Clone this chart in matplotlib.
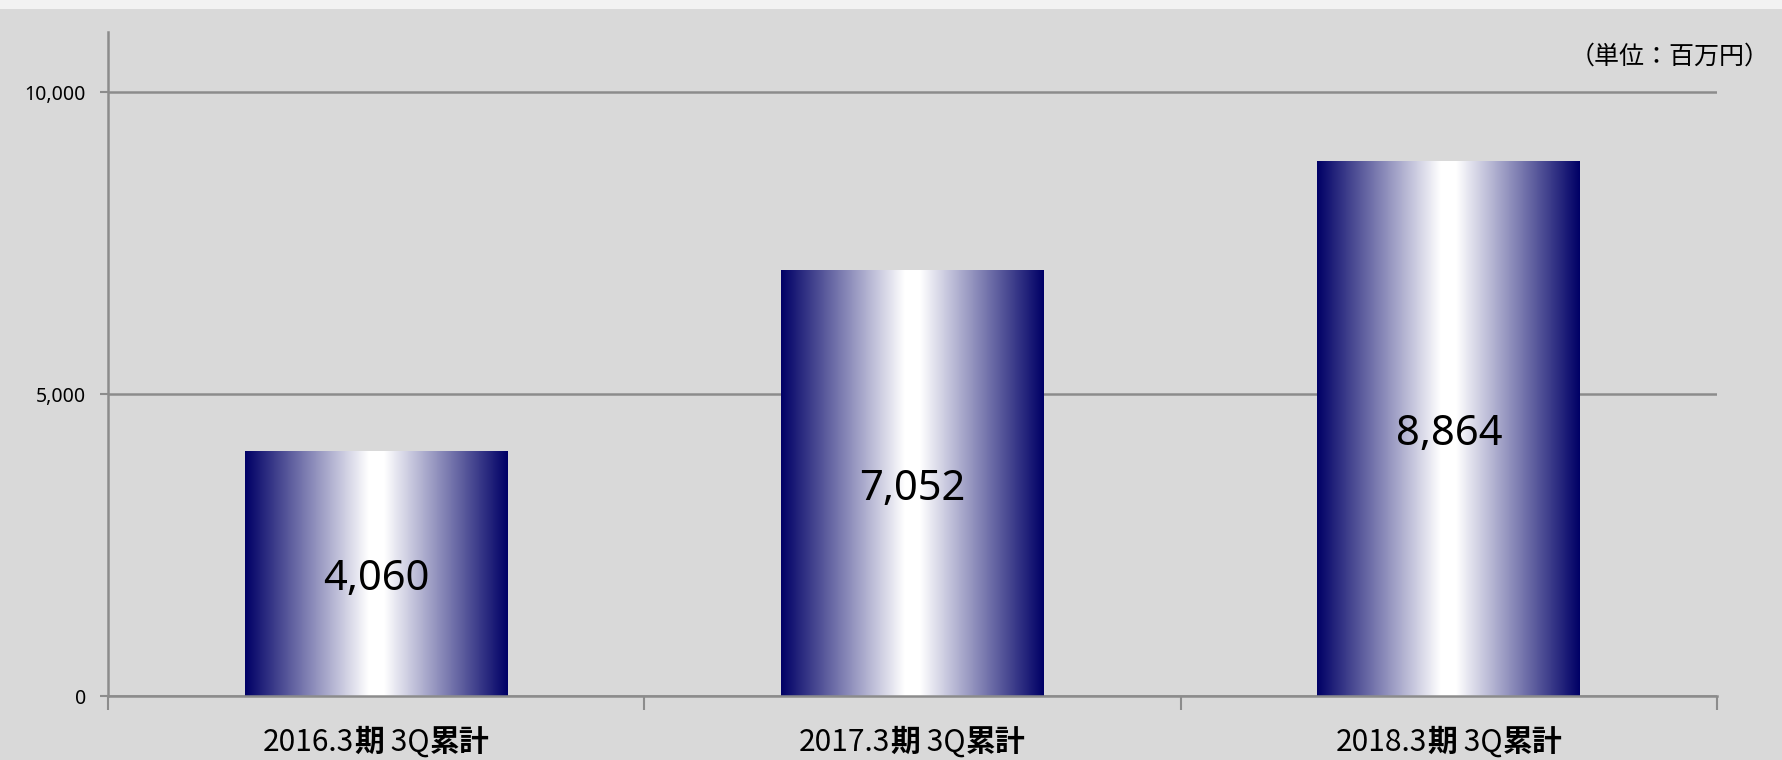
import matplotlib
matplotlib.use("Agg")
import matplotlib.pyplot as plt
import numpy as np
from matplotlib.colors import LinearSegmentedColormap
from matplotlib.offsetbox import TextArea, HPacker, AnnotationBbox

# ---- data ----
periods = ["2016.3", "2017.3", "2018.3"]
values = [4060, 7052, 8864]
value_labels = ["4,060", "7,052", "8,864"]
yticks = [0, 5000, 10000]
ytick_labels = ["0", "5,000", "10,000"]
unit_label = "（単位：百万円）"

JP = ["Noto Sans CJK JP", "DejaVu Sans"]
NUM = ["Noto Sans", "DejaVu Sans"]
BG = "#d9d9d9"
GRID = "#8c8c8c"
NAVY = "#000066"

fig = plt.figure(figsize=(17.83, 7.60), dpi=100, facecolor=BG)
# light top strip
fig.patches.append(plt.Rectangle((0, 1 - 9 / 760), 1, 9 / 760, transform=fig.transFigure,
                                 facecolor="#f2f2f2", edgecolor="none", zorder=0))

ax = fig.add_axes([108 / 1783, 1 - 696 / 760, (1717 - 108) / 1783, (696 - 32) / 760])
ax.set_facecolor(BG)

x = np.arange(len(values))
bars = ax.bar(x, values, width=0.49, color="none", edgecolor="none", zorder=2)

cmap = LinearSegmentedColormap.from_list(
    "navyglow", [(0.0, NAVY), (0.47, "#ffffff"), (0.53, "#ffffff"), (1.0, NAVY)])
grad = np.linspace(0, 1, 512).reshape(1, -1)
for b in bars:
    x0, y0 = b.get_x(), b.get_y()
    w, h = b.get_width(), b.get_height()
    im = ax.imshow(grad, cmap=cmap, aspect="auto", extent=(x0, x0 + w, y0, y0 + h),
                   zorder=2, interpolation="bilinear")
    im.set_clip_path(b)

vfs = 30
for xi, v, lab in zip(x, values, value_labels):
    ax.annotate(lab, (xi, v / 2), xytext=(0, -0.714 * vfs / 2 - 1.5), textcoords="offset points",
                ha="center", va="baseline", fontsize=vfs, family=NUM, color="#000000", zorder=3)

ax.set_xlim(-0.5, len(values) - 0.5)
ax.set_ylim(0, 11000)
ax.set_yticks(yticks)
ax.set_yticklabels(ytick_labels, fontsize=14, family=NUM, color="#000000")
ax.yaxis.grid(True, color=GRID, linewidth=1.8, zorder=1)
ax.set_axisbelow(True)
ax.tick_params(axis="y", length=6, width=1.5, color=GRID, pad=10)

ax.set_xticks(np.arange(-0.5, len(values), 1.0))
ax.set_xticklabels([])
ax.tick_params(axis="x", length=10, width=1.5, color=GRID)

for s in ["top", "right"]:
    ax.spines[s].set_visible(False)
for s in ["left", "bottom"]:
    ax.spines[s].set_color(GRID)
    ax.spines[s].set_linewidth(1.8)

# category labels with mixed weight
fs = 21.5
for xi, p in zip(x, periods):
    parts = [(p, "normal"), ("期", "bold"), (" 3Q", "normal"), ("累計", "bold")]
    children = [TextArea(t, textprops=dict(fontsize=fs, fontweight=wt, family=JP, color="#000000"))
                for t, wt in parts]
    box = HPacker(children=children, align="baseline", pad=0, sep=0)
    ab = AnnotationBbox(box, (xi, -0.07), xycoords=("data", "axes fraction"),
                        frameon=False, box_alignment=(0.5, 0.5), annotation_clip=False)
    ax.add_artist(ab)

fig.text(1770 / 1783, 1 - 57 / 760, unit_label, ha="right", va="center",
         fontsize=18, family=JP, color="#000000")

fig.savefig("out.png", dpi=100, facecolor=BG)
